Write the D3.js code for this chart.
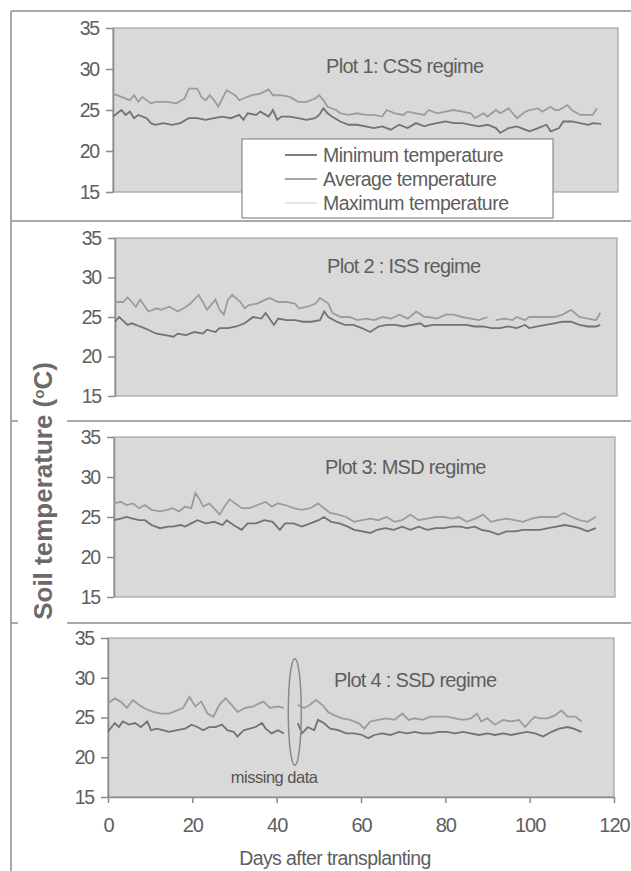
<!DOCTYPE html>
<html>
<head>
<meta charset="utf-8">
<script src="https://d3js.org/d3.v7.min.js"></script>
<style>
  body { margin: 0; background: #fff; }
  svg { display: block; font-family: "Liberation Sans", Arial, sans-serif; }
</style>
</head>
<body>
<svg width="631" height="871"></svg>
<script>
  // tick labels and text
  var xTicks = [0, 20, 40, 60, 80, 100, 120];
  var yTicks = [15, 20, 25, 30, 35];
  var plotTitles = ["Plot 1: CSS regime", "Plot 2 : ISS regime", "Plot 3: MSD regime", "Plot 4 : SSD regime"];
  var legendLabels = ["Minimum temperature", "Average temperature", "Maximum temperature"];

  // [day, temperature], null = gap in the record
  var plot1Min = [[0,24.2],[2,25.0],[3,24.4],[4,24.8],[5,24.0],[6,24.4],[8,24.0],[9,23.4],[10,23.2],[12,23.4],[14,23.2],[16,23.4],[18,24.0],[20,24.0],[22,23.8],[24,24.0],[26,24.2],[28,24.0],[30,24.4],[31,23.8],[32,24.6],[34,24.4],[35,24.8],[37,24.2],[38,25.0],[39,23.8],[40,24.2],[42,24.2],[44,24.0],[46,23.8],[48,24.0],[49,24.4],[50,25.2],[51,24.6],[52,24.2],[54,23.6],[56,23.2],[58,23.2],[60,23.0],[62,22.8],[64,23.0],[66,22.6],[68,23.2],[70,22.8],[72,23.4],[74,23.0],[75,23.2],[77,23.4],[79,23.6],[81,23.4],[83,23.4],[85,23.2],[87,23.0],[89,23.2],[91,22.8],[92,22.2],[94,22.8],[96,23.0],[97,22.8],[99,22.4],[101,22.8],[103,23.2],[104,22.4],[106,22.8],[107,23.6],[109,23.6],[111,23.4],[113,23.2],[114,23.4],[116,23.3]];
  var plot1Avg = [[0,27.0],[2,26.6],[4,26.2],[5,26.8],[6,26.0],[7,26.6],[9,25.8],[10,26.0],[11,26.0],[13,26.0],[15,25.8],[17,26.4],[18,27.6],[20,27.6],[21,26.6],[22,26.2],[23,26.8],[24,26.2],[25,25.4],[26,26.4],[27,27.4],[29,26.8],[30,26.2],[31,26.4],[33,26.8],[35,27.0],[37,27.5],[38,26.8],[40,26.8],[42,26.6],[44,26.0],[46,26.0],[48,26.4],[49,26.8],[50,26.2],[51,25.4],[53,25.0],[54,24.6],[56,24.4],[58,24.6],[60,24.4],[62,24.4],[64,24.2],[65,25.0],[67,24.6],[69,24.4],[70,24.8],[72,24.6],[74,24.4],[75,25.0],[77,24.6],[79,24.8],[81,25.0],[83,24.8],[85,24.6],[86,24.0],[88,24.6],[89,24.2],[91,25.0],[92,24.6],[94,25.2],[95,24.6],[96,24.0],[98,24.8],[99,25.0],[101,25.2],[102,24.8],[104,25.4],[105,25.0],[106,25.0],[108,25.6],[109,25.0],[111,24.4],[113,24.4],[114,24.4],[115,25.2]];

  var plot2Min = [[0,24.4],[1,25.0],[3,24.0],[4,24.2],[6,23.8],[7,23.6],[9,23.1],[10,22.9],[12,22.7],[14,22.5],[15,22.9],[17,22.7],[19,23.1],[21,22.9],[22,23.4],[24,23.1],[25,23.6],[27,23.6],[29,23.8],[31,24.2],[33,25.0],[35,24.8],[36,25.5],[38,24.0],[39,24.8],[41,24.6],[43,24.6],[45,24.4],[47,24.4],[49,24.6],[50,25.7],[51,25.0],[53,24.4],[55,24.0],[57,24.0],[59,23.6],[61,23.1],[63,23.8],[65,24.0],[67,24.0],[69,23.8],[71,24.0],[73,24.2],[74,23.8],[76,24.0],[78,24.0],[80,24.0],[82,24.0],[84,24.0],[86,23.8],[88,23.8],[90,23.6],[92,23.6],[94,23.8],[96,23.6],[98,24.0],[99,23.6],[101,23.8],[103,24.0],[105,24.2],[107,24.4],[109,24.4],[111,24.0],[113,23.8],[115,23.8],[116,24.0]];
  var plot2Avg = [[0,26.9],[2,26.9],[3,27.5],[5,26.3],[6,27.2],[8,25.7],[10,26.1],[11,25.9],[13,26.3],[15,25.7],[17,26.3],[18,26.7],[20,27.8],[21,26.9],[22,25.9],[24,27.2],[25,25.9],[26,25.3],[27,27.2],[28,27.8],[30,26.9],[31,26.1],[32,26.5],[34,26.7],[36,27.2],[37,27.4],[39,26.9],[41,26.9],[43,26.7],[44,26.1],[46,26.3],[48,26.7],[49,27.4],[51,26.7],[52,25.5],[54,25.0],[56,25.0],[58,24.6],[60,24.8],[62,24.6],[64,25.0],[66,24.8],[68,25.3],[70,24.8],[72,25.7],[74,25.0],[75,25.0],[77,24.8],[79,25.3],[81,25.3],[83,25.0],[85,24.8],[87,24.6],[89,25.0],[90,null],[91,24.6],[93,24.8],[95,24.6],[96,25.0],[98,24.6],[99,25.0],[101,25.0],[103,25.0],[105,25.0],[107,25.3],[109,25.9],[111,25.0],[113,24.8],[115,24.6],[116,25.5]];

  var plot3Min = [[0,24.6],[1.6,24.8],[3,25.0],[4.5,24.8],[6,24.6],[7.4,24.6],[9,24.0],[11,23.6],[13,23.8],[14,23.8],[16,24.0],[17,23.8],[18.5,24.2],[20,24.6],[22,24.2],[24,24.4],[26,24.0],[27,24.6],[28.6,24.0],[30.6,23.4],[32,24.2],[34,24.2],[36,24.6],[38,24.4],[39.7,23.4],[41,24.2],[43,24.2],[45,23.8],[47,24.2],[49,24.6],[50.3,25.0],[52,24.4],[54,24.2],[56,23.8],[57.5,23.4],[59.5,23.2],[61.4,23.0],[63,23.4],[65,23.6],[67,23.4],[69,23.8],[71,23.4],[73,23.8],[75,23.4],[77,23.6],[79,23.6],[81,23.8],[83,23.8],[84.5,23.6],[86.5,23.8],[88,23.4],[90,23.2],[92,22.8],[94,23.2],[96,23.2],[98,23.4],[100,23.4],[102,23.4],[104,23.6],[106,23.8],[108,24.0],[110,23.8],[111.5,23.6],[113.4,23.2],[115.4,23.6]];
  var plot3Avg = [[0,26.7],[1.6,26.9],[3,26.5],[4.5,26.7],[6,26.1],[7.4,26.5],[9,25.9],[11,25.7],[12.7,25.9],[14,26.1],[15.6,25.7],[17,26.3],[18.5,26.1],[19.5,28.0],[20.4,27.3],[21.4,26.3],[22.8,26.7],[24.3,25.9],[25.3,25.3],[26.7,26.5],[27.7,27.2],[29,26.7],[30.6,26.1],[32.5,26.1],[34.4,26.5],[36.3,26.9],[37.8,26.3],[39.2,26.7],[41,26.5],[43,26.1],[45,25.9],[47,26.1],[48.9,26.7],[50.3,26.1],[51.8,25.5],[53.7,25.3],[55.6,25.0],[57.5,24.4],[59.5,24.6],[61.4,24.8],[63.3,24.6],[65.3,25.0],[67.2,24.4],[69,24.6],[71,25.3],[73,24.6],[75,24.8],[77,25.0],[79,25.0],[81,24.8],[82.6,25.0],[84.5,24.4],[86.5,24.8],[88.4,25.3],[90.3,24.4],[92,24.6],[94,24.8],[96,24.6],[98,24.4],[100,24.8],[102,25.0],[104,25.0],[106,25.0],[107.7,25.5],[109.6,25.0],[111.5,24.6],[113.4,24.4],[115.4,25.0]];

  var plot4Min = [[0,23.2],[1.6,24.3],[2.6,23.8],[3.5,24.5],[5,24.1],[6.4,24.3],[7.8,23.8],[9.3,24.5],[10.2,23.4],[11.6,23.6],[13,23.4],[14.5,23.2],[16.4,23.4],[18.3,23.6],[19.8,24.1],[21.2,23.8],[22.6,23.4],[24,23.8],[25.5,23.8],[27,24.1],[28.3,23.4],[29.8,23.2],[30.7,22.6],[32.2,23.4],[33.6,23.6],[35,23.8],[36.5,24.3],[37.4,23.6],[38.8,23.0],[40.3,23.4],[41.7,23.0],[43,null],[45,24.3],[46,23.0],[47.4,23.8],[48.9,23.4],[49.8,24.7],[51.2,24.3],[52.7,23.6],[54.6,23.4],[56.5,23.0],[58.4,23.0],[60.3,22.8],[61.7,22.4],[63.2,22.8],[65,23.0],[67,22.8],[69,23.2],[71,23.0],[72.7,23.2],[74.6,23.0],[76.5,23.0],[78.4,23.2],[80.3,23.2],[82.3,23.0],[84.2,23.2],[86,23.0],[88,22.8],[90,23.0],[91.8,22.8],[93.7,23.0],[95.6,22.8],[97.5,23.0],[99.4,23.2],[101.3,23.0],[103.2,22.6],[105.2,23.2],[107,23.6],[109,23.8],[110.4,23.6],[112.3,23.2]];
  var plot4Avg = [[0,26.8],[1.6,27.4],[3,27.0],[4.5,26.2],[5.9,27.2],[7.3,26.6],[8.8,26.1],[10.7,25.7],[12.6,25.5],[14.5,25.5],[16.4,25.9],[17.8,26.2],[19.3,27.6],[20.7,26.4],[22.1,27.0],[23.6,25.5],[25,25.1],[26.4,26.6],[27.9,27.4],[29.3,26.6],[30.7,25.7],[32.6,26.2],[34.5,26.4],[36,26.8],[36.9,27.0],[38.4,26.2],[40.3,26.4],[41.7,26.2],[43,null],[45,26.6],[46.5,26.2],[47.9,26.6],[49.3,27.2],[50.8,26.6],[52.2,25.7],[53.6,25.3],[55.5,24.9],[57.4,24.7],[59.4,24.3],[60.8,23.6],[62.2,24.5],[64.1,24.7],[66,24.9],[67.9,24.7],[69.8,25.5],[71.3,24.7],[72.7,24.9],[74.6,24.7],[76.5,25.1],[78.4,25.1],[80.3,25.1],[82.3,24.9],[84.2,24.7],[86.1,24.9],[87.5,25.5],[88.5,24.5],[89.9,24.9],[91.8,24.1],[93.7,24.7],[95.6,24.5],[97.5,24.7],[98.9,23.8],[100.4,24.7],[101.3,25.1],[102.3,24.9],[104.2,24.9],[106.1,25.3],[107.5,25.9],[109,25.1],[110.9,25.1],[112.3,24.5]];

  var minSeries = [plot1Min, plot2Min, plot3Min, plot4Min];
  var avgSeries = [plot1Avg, plot2Avg, plot3Avg, plot4Avg];

  // missing-data annotation on plot 4: [day, low temp, high temp]
  var missingMark = [44.3, 19.0, 32.4];

  var svg = d3.select("svg");
  var lineColors = ["#727272", "#9c9c9c", "#e2e2e2"];
  var textColor = "#5e5e5e";
  var axisColor = "#8a8a8a";

  // where each panel's plot area sits on the page
  var panels = [
    { left: 113, right: 618, top: 28, bottom: 192, titleX: 326, titleY: 66 },
    { left: 115, right: 617, top: 238, bottom: 396, titleX: 327, titleY: 266 },
    { left: 114, right: 615, top: 437, bottom: 597, titleX: 325, titleY: 467 },
    { left: 108, right: 614, top: 638, bottom: 797, titleX: 334, titleY: 680 }
  ];

  // page frame and panel separators
  var frame = svg.append("g").attr("stroke", "#8c8c8c").attr("stroke-width", 1.5);
  frame.append("line").attr("x1", 11).attr("x2", 631).attr("y1", 11).attr("y2", 11);
  frame.append("line").attr("x1", 11).attr("x2", 11).attr("y1", 11).attr("y2", 871);
  frame.append("line").attr("x1", 11).attr("x2", 631).attr("y1", 221).attr("y2", 221);
  [421, 623].forEach(function (yy) {
    frame.append("line").attr("x1", 11).attr("x2", 18).attr("y1", yy).attr("y2", yy);
    frame.append("line").attr("x1", 67).attr("x2", 631).attr("y1", yy).attr("y2", yy);
  });

  panels.forEach(function (p, i) {
    var x = d3.scaleLinear().domain([0, 120]).range([p.left, p.right]);
    var y = d3.scaleLinear().domain([15, 35]).range([p.bottom, p.top]);
    var g = svg.append("g");

    g.append("rect")
      .attr("x", p.left)
      .attr("y", p.top)
      .attr("width", p.right - p.left)
      .attr("height", p.bottom - p.top)
      .attr("fill", "#d9d9d9")
      .attr("stroke", "#a2a2a2")
      .attr("stroke-width", 1.2);

    var yAxis = g.append("g")
      .attr("transform", "translate(" + p.left + ",0)")
      .call(d3.axisLeft(y).tickValues(yTicks).tickSize(7).tickSizeOuter(0).tickPadding(7));
    yAxis.selectAll("text")
      .style("font-size", "19.5px")
      .style("letter-spacing", "-1.2px")
      .attr("fill", textColor);

    if (i === 3) {
      var xAxis = g.append("g")
        .attr("transform", "translate(0," + p.bottom + ")")
        .call(d3.axisBottom(x).tickValues(xTicks).tickSize(6).tickSizeOuter(0).tickPadding(15));
      xAxis.selectAll("text")
        .style("font-size", "20px")
        .style("letter-spacing", "-1px")
        .attr("fill", textColor);
      xAxis.select(".domain").attr("stroke", axisColor).attr("stroke-width", 1.5);
      xAxis.selectAll(".tick line").attr("stroke", axisColor).attr("stroke-width", 1.5);
    }
    yAxis.select(".domain").attr("stroke", axisColor).attr("stroke-width", 1.5);
    yAxis.selectAll(".tick line").attr("stroke", axisColor).attr("stroke-width", 1.5);

    var line = d3.line()
      .defined(function (d) { return d[1] !== null; })
      .x(function (d) { return x(d[0]); })
      .y(function (d) { return y(d[1]); });

    g.append("path")
      .attr("d", line(avgSeries[i]))
      .attr("fill", "none")
      .attr("stroke", lineColors[1])
      .attr("stroke-width", 1.8);
    g.append("path")
      .attr("d", line(minSeries[i]))
      .attr("fill", "none")
      .attr("stroke", lineColors[0])
      .attr("stroke-width", 1.8);

    g.append("text")
      .attr("x", p.titleX)
      .attr("y", p.titleY)
      .attr("dy", "0.35em")
      .style("font-size", "20px")
      .style("letter-spacing", "-0.7px")
      .attr("fill", textColor)
      .text(plotTitles[i]);

    if (i === 3) {
      var top = y(missingMark[2]), bot = y(missingMark[1]);
      g.append("ellipse")
        .attr("cx", x(missingMark[0]))
        .attr("cy", (top + bot) / 2)
        .attr("rx", 6.5)
        .attr("ry", (bot - top) / 2)
        .attr("fill", "none")
        .attr("stroke", "#8a8a8a")
        .attr("stroke-width", 1.5);
      g.append("text")
        .attr("x", x(39.4))
        .attr("y", y(17.5))
        .attr("dy", "0.35em")
        .attr("text-anchor", "middle")
        .style("font-size", "16.5px")
        .style("letter-spacing", "-0.5px")
        .attr("fill", "#555")
        .text("missing data");
    }
  });

  // legend, overlapping the bottom of plot 1
  var legend = svg.append("g");
  legend.append("rect")
    .attr("x", 242).attr("y", 139)
    .attr("width", 311).attr("height", 79)
    .attr("fill", "#fff")
    .attr("stroke", "#8a8a8a")
    .attr("stroke-width", 1.2);
  legendLabels.forEach(function (label, k) {
    var ly = 155 + k * 24;
    legend.append("line")
      .attr("x1", 285).attr("x2", 317)
      .attr("y1", ly).attr("y2", ly)
      .attr("stroke", lineColors[k])
      .attr("stroke-width", 1.8);
    legend.append("text")
      .attr("x", 323).attr("y", ly)
      .attr("dy", "0.35em")
      .style("font-size", "19.5px")
      .style("letter-spacing", "-0.5px")
      .attr("fill", textColor)
      .text(label);
  });

  // axis titles
  svg.append("text")
    .attr("x", 335).attr("y", 858)
    .attr("dy", "0.35em")
    .attr("text-anchor", "middle")
    .style("font-size", "19.5px")
    .style("letter-spacing", "-0.6px")
    .attr("fill", textColor)
    .text("Days after transplanting");

  var yTitle = svg.append("text")
    .attr("transform", "translate(43,491) rotate(-90)")
    .attr("dy", "0.35em")
    .attr("text-anchor", "middle")
    .style("font-size", "26px")
    .style("font-weight", "bold")
    .attr("fill", "#6a6a6a");
  yTitle.append("tspan").text("Soil temperature (");
  yTitle.append("tspan").attr("baseline-shift", "super").style("font-size", "15px").text("o");
  yTitle.append("tspan").text("C)");
</script>
</body>
</html>
